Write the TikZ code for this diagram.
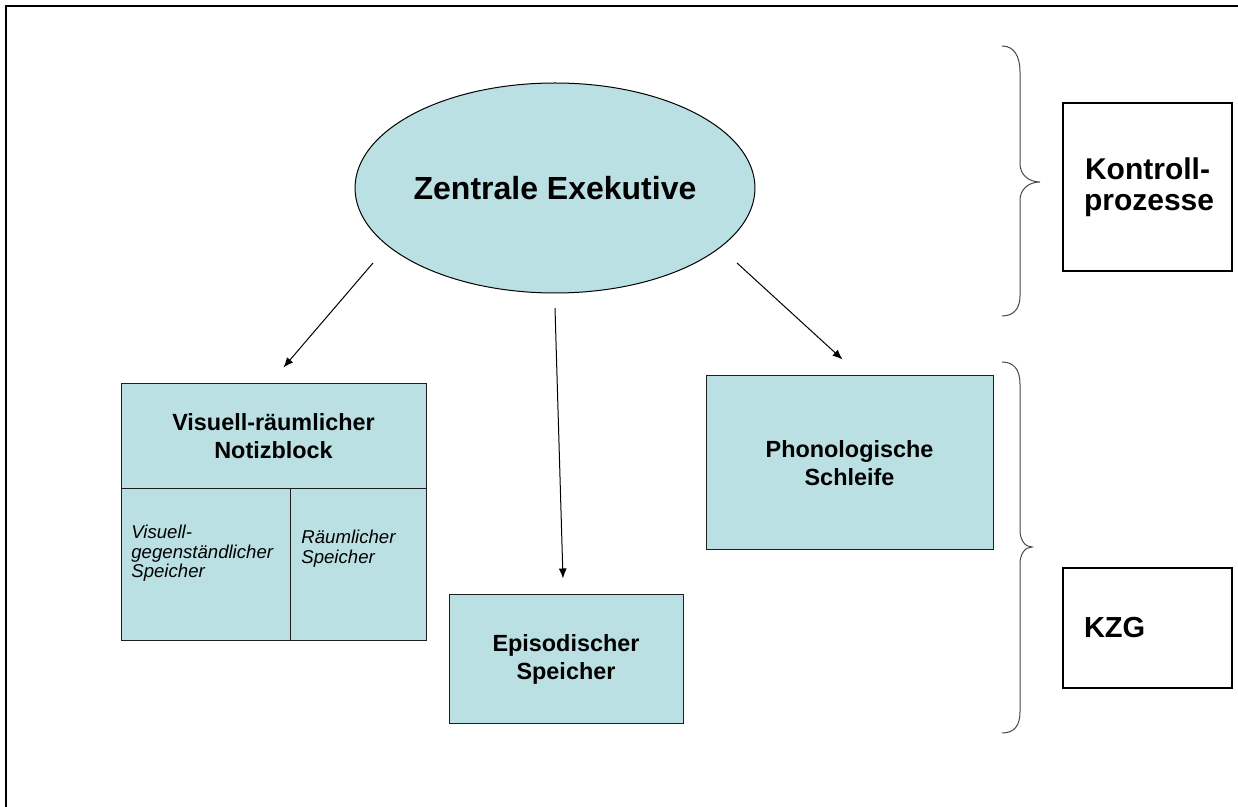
\documentclass[tikz,border=0pt]{standalone}
\usepackage{fontspec}
\setmainfont{Liberation Sans}
\usepackage{tikz}
\usetikzlibrary{shapes.geometric}
\usetikzlibrary{arrows.meta}

\definecolor{memblue}{RGB}{187,224,227}

\begin{document}
\begin{tikzpicture}[x=0.5pt,y=0.5pt,yscale=-1,xscale=1,
  box/.style={draw={rgb, 255:red, 30; green, 30; blue, 30 },fill=memblue,line width=0.5pt,inner sep=0pt,align=center},
  ctrl/.style={draw=black,line width=0.8pt,inner ysep=0pt,inner xsep=10.5pt,text width=63.5pt,minimum width=84.5pt},
  titel/.style={font=\fontsize{11.7}{14}\selectfont\bfseries},
  klein/.style={inner sep=0pt,align=left,font=\fontsize{9.3}{9.6}\selectfont\itshape},
  arr/.style={-{Latex[length=5pt,width=4pt]},line width=0.5pt},
  brc/.style={draw={rgb, 255:red, 70; green, 70; blue, 70 },line width=0.5pt}]
\useasboundingbox (0,0) rectangle (1238,807);

%Straight Lines (frame)
\draw [line width=1pt]  (6,807) -- (6,6) -- (1238,6) ;

% Ellipse
\node [ellipse,draw=black,fill=memblue,line width=0.5pt,minimum width=197pt,minimum height=105pt,inner sep=0pt,font=\fontsize{16}{19}\selectfont\bfseries] (ze) at (555,188) {Zentrale Exekutive};

% Visuell-raeumlicher Notizblock
\node [box,titel,minimum width=152.5pt,minimum height=52.5pt] (vrn) at (273.5,436.5) {Visuell-räumlicher\\Notizblock};
\node [box,minimum width=84.5pt,minimum height=76pt] (vgs) at (205.5,565) {};
\node [box,minimum width=68pt,minimum height=76pt] (rsp) at (358,565) {};
% Text Node
\node [klein,anchor=north west] (vgsT) at (131,525) {Visuell-\\gegenständlicher\\Speicher};
% Text Node
\node [klein,anchor=north west] (rspT) at (301,530) {Räumlicher\\Speicher};

% Episodischer Speicher
\node [box,titel,minimum width=117pt,minimum height=64pt] (eps) at (566,659) {Episodischer\\Speicher};
% Phonologische Schleife
\node [box,titel,minimum width=143.5pt,minimum height=87pt] (phs) at (849.5,463) {Phonologische\\Schleife};

% Kontrollprozesse, KZG
\node [ctrl,align=center,minimum height=84pt,font=\fontsize{15}{15.5}\selectfont\bfseries] (kp) at (1147.5,187) {Kontroll-\\prozesse};
\node [ctrl,align=left,minimum height=60pt,font=\fontsize{14.5}{17}\selectfont\bfseries] (kzg) at (1147.5,628) {KZG};

% Arrow ends
\path (ze.center) ++(-182,75) coordinate (s1);
\path (ze.center) ++(0,120) coordinate (s2);
\path (ze.center) ++(182,75) coordinate (s3);
\path (vrn.north) ++(10,-16) coordinate (t1);
\path (eps.north) ++(-3,-16) coordinate (t2);
\path (phs.north) ++(-7,-16) coordinate (t3);

%Straight Lines
\draw [arr] (s1) -- (t1) ;
\draw [arr] (s2) -- (t2) ;
\draw [arr] (s3) -- (t3) ;

%Curve Lines (upper brace)
\draw [brc] (1002,46) .. controls (1014,46) and (1020,56) .. (1020,72) -- (1020,164) .. controls (1020,174) and (1028,182) .. (1040,182) .. controls (1028,182) and (1020,190) .. (1020,200) -- (1020,296) .. controls (1020,308) and (1014,316) .. (1002,316) ;
%Curve Lines (lower brace)
\draw [brc] (1002,362) .. controls (1014,362) and (1020,370) .. (1020,384) -- (1020,530) .. controls (1020,540) and (1025,547) .. (1032,547) .. controls (1025,547) and (1020,554) .. (1020,564) -- (1020,712) .. controls (1020,726) and (1014,733) .. (1002,733) ;

\end{tikzpicture}
\end{document}
